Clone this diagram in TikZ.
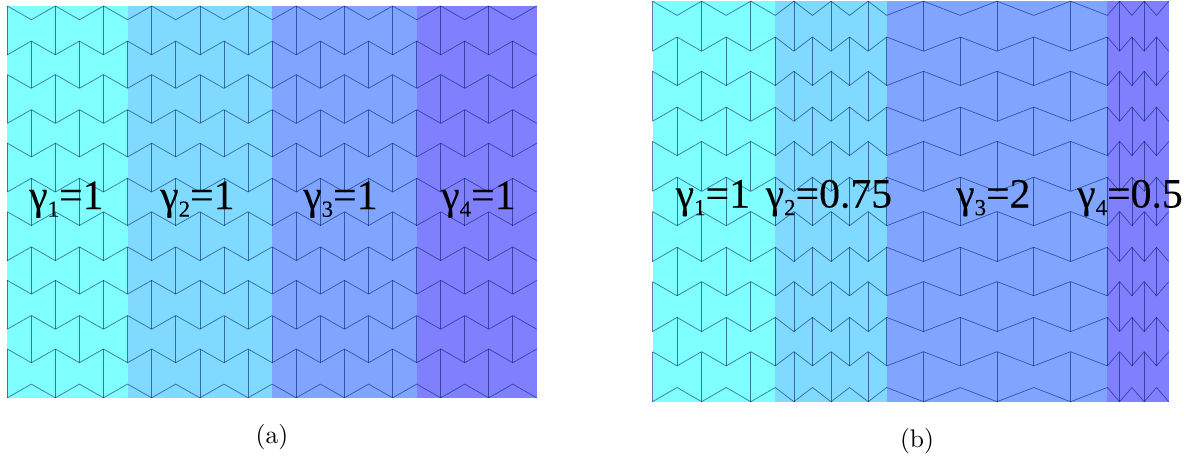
\documentclass[tikz,border=0pt]{standalone}
\usepackage{fontspec}
\setmainfont[FakeBold=0.1]{Liberation Serif}
\newfontfamily\capfont[OpticalSize=10]{Latin Modern Roman}
\definecolor{regA}{HTML}{80FFFF}
\definecolor{regB}{HTML}{80D9FF}
\definecolor{regC}{HTML}{80A5FF}
\definecolor{regD}{HTML}{8080FF}
\definecolor{meshcol}{HTML}{00206A}
\newcommand{\gamlab}[2]{{\rmfamily\fontsize{41.7}{42}\selectfont γ\raisebox{-7.7pt}{\fontsize{23}{23}\selectfont #1}=#2}}
\newcommand{\lattice}[9]{%
 \begingroup
 \def\latxo{#1}\def\lwa{#2}\def\lwb{#3}\def\lwc{#4}\def\lwd{#5}\def\lattp{#6}\def\latper{#7}\def\latamp{#8}\def\lathh{#9}%
 \pgfmathsetmacro\latxa{hx(5)}\pgfmathsetmacro\latxb{hx(11)}\pgfmathsetmacro\latxc{hx(17)}\pgfmathsetmacro\latxd{hx(22)}%
 \pgfmathsetmacro\latbt{\lattp+5*\latper+\lathh}%
 \fill[regA] (\latxo,\lattp) rectangle (\latxa,\latbt);
 \fill[regB] (\latxa,\lattp) rectangle (\latxb,\latbt);
 \fill[regC] (\latxb,\lattp) rectangle (\latxc,\latbt);
 \fill[regD] (\latxc,\lattp) rectangle (\latxd,\latbt);
 \foreach \k in {0,...,5}{
  \draw[meshline] plot[samples at={0,...,22}] ({hx(\x)},{\lattp+\k*\latper+\latamp*mod(\x,2)});
  \draw[meshline] plot[samples at={0,...,22}] ({hx(\x)},{\lattp+\k*\latper+\lathh-\latamp*mod(\x,2)});
  \foreach \q in {0,2,...,20}{
   \pgfmathsetmacro\vx{hx(\q)}
   \draw[meshline] (\vx,{\lattp+\k*\latper}) -- (\vx,{\lattp+\k*\latper+\lathh});
  }
 }
 \foreach \k in {0,...,4}{
  \foreach \q in {1,3,...,21}{
   \pgfmathsetmacro\vx{hx(\q)}
   \draw[meshline] (\vx,{\lattp+\k*\latper+\lathh-\latamp}) -- (\vx,{\lattp+(\k+1)*\latper+\latamp});
  }
 }
 \endgroup
}
\tikzset{
 meshline/.style={draw=meshcol,line width=0.7pt,opacity=0.6,line join=miter},
 gamma label/.style={anchor=base west,inner sep=0pt,text=black},
 caption label/.style={anchor=base,inner sep=0pt,text=black,font=\capfont\fontsize{25.5}{25.5}\selectfont},
 declare function={hx(\i)=\latxo+\lwa*min(\i,5)+\lwb*min(max(\i-5,0),6)+\lwc*min(max(\i-11,0),6)+\lwd*max(\i-17,0);}
}
\begin{document}
\begin{tikzpicture}[x=1pt,y=-1pt]
\useasboundingbox (0,0) rectangle (1192,461);
\fill[white] (0,0) rectangle (1192,461);
\lattice{7.3}{24.05}{24.1}{24.1}{24}{6}{68.6}{13.7}{48.8}
\lattice{652.5}{24.56}{18.57}{36.77}{12.28}{1.2}{70.1}{14.2}{50}
\node[gamma label] (a1) at (29,209) {\gamlab{1}{1}};
\node[gamma label] (a2) at (160,209) {\gamlab{2}{1}};
\node[gamma label] (a3) at (303,209) {\gamlab{3}{1}};
\node[gamma label] (a4) at (441,209) {\gamlab{4}{1}};
\node[gamma label] (b1) at (675.5,207.5) {\gamlab{1}{1}};
\node[gamma label] (b2) at (765.5,207.5) {\gamlab{2}{0.75}};
\node[gamma label] (b3) at (956,207.5) {\gamlab{3}{2}};
\node[gamma label] (b4) at (1077,207.5) {\gamlab{4}{0.5}};
\node[caption label] (capa) at (272,443) {(a)};
\node[caption label] (capb) at (917,447) {(b)};
\end{tikzpicture}
\end{document}
